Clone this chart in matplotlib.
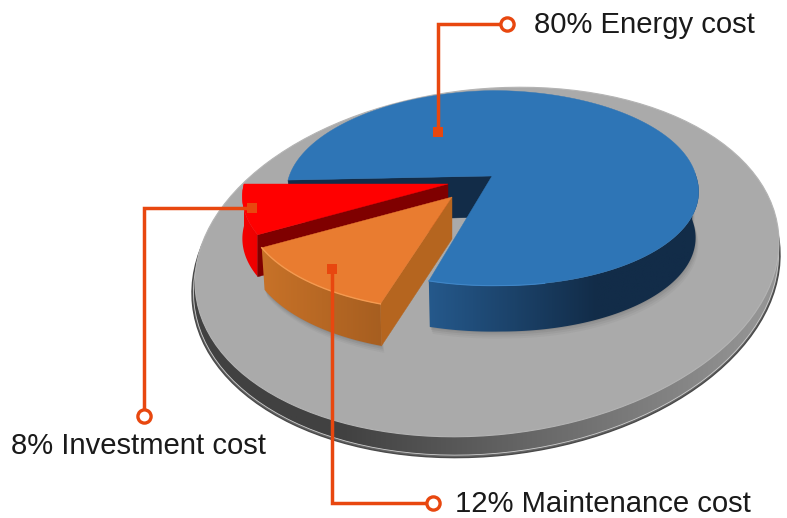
import numpy as np
import matplotlib
matplotlib.use('Agg')
import matplotlib.pyplot as plt
from matplotlib.patches import Ellipse, Polygon
from matplotlib.colors import LinearSegmentedColormap

# shares in percent, drawn counter-clockwise starting from the left of the pie
categories = ['Investment cost', 'Maintenance cost', 'Energy cost']
shares = [8, 12, 80]
labels = ['8% Investment cost', '12% Maintenance cost', '80% Energy cost']

plt.rcParams['font.family'] = ['Liberation Sans', 'DejaVu Sans']

ORANGE_LINE = '#e8470f'
START_ANGLE = 180
A, B, K = 204, 96, 0.1236  # pie ellipse scale and perspective

# slice look: apex in pixels, thickness, top, side from/to, cut face
slice_style = {
    'Investment cost': dict(apex=(448, 184), depth=42, top='#ff0000', side=('#f60000', '#ec0000'),
                            cut='#7f0000', grad=60, shear=0, tilt=0, b=99, k=0.1255, wall=360,
                            shrink=1.0),
    'Maintenance cost': dict(apex=(452, 197), depth=42, top='#e97c30', side=('#c87228', '#a65e20'),
                             cut='#b5651f', grad=125, shear=0, tilt=0, b=99, k=0.1255, wall=360,
                             shrink=0.985),
    'Energy cost': dict(apex=(492, 176), depth=46, top='#2e75b6', side=('#25598c', '#122c48'),
                        cut='#122c48', grad=170, shear=0.08, tilt=0.02, b=B, k=K, wall=110,
                        shrink=0.985),
}

fig = plt.figure(figsize=(7.87, 5.18), dpi=100)
ax = fig.add_axes([0, 0, 1, 1])


def project(theta, style):
    # point on the unit circle to image pixels, far side slightly smaller
    apex = style['apex']
    u, v = np.cos(np.radians(theta)), np.sin(np.radians(theta))
    w = 1 + style['k'] * v
    dx, dy = A * u / w, -style['b'] * v / w
    x = apex[0] + dx + style['shear'] * np.maximum(dy, 0)
    y = apex[1] + dy + style['tilt'] * np.maximum(-dx, 0)
    return x, y


def lower(x, y, style):
    return style['apex'][0] + (x - style['apex'][0]) * style['shrink'], y + style['depth']


def draw_plate():
    ax.add_patch(Ellipse((486, 274), 590, 364, angle=-6, fc='#666666', ec='#4a4a4a', lw=1, zorder=1))
    rim = Ellipse((486, 273), 587, 361, angle=-6, fc='none', ec='none', zorder=2)
    ax.add_patch(rim)
    xx = np.linspace(190, 785, 256)
    grad = np.clip((xx - 340) / 420, 0, 1).reshape(1, -1)
    img = ax.imshow(grad, extent=(190, 785, 520, 80), cmap=LinearSegmentedColormap.from_list(
        'rim', ['#414141', '#949494']), aspect='auto', zorder=2)
    img.set_clip_path(rim)
    ax.add_patch(Ellipse((486, 273), 587, 361, angle=-6, fc='none', ec='#cfcfcf', lw=0.6, zorder=2.5))
    ax.add_patch(Ellipse((487, 262), 586, 346, angle=-6, fc='#aaaaaa', ec='#b4b4b4', lw=0.8, zorder=3))


def draw_shadow(t0, t1, style):
    th = np.linspace(t0, t1, 80)
    x, y = project(th, style)
    xl, yl = lower(x, y, style)
    for grow, alpha in zip([7, 5, 3, 1], [0.03, 0.04, 0.05, 0.06]):
        pts = np.column_stack([np.r_[x, xl[::-1] + grow * 0.4], np.r_[y, yl[::-1] + grow]])
        ax.add_patch(Polygon(pts, fc='black', ec='none', alpha=alpha, zorder=4))


def draw_slice(t0, t1, style, z):
    apex = style['apex']
    depth = style['depth']
    th = np.linspace(t0, t1, 240)
    x, y = project(th, style)

    # outer wall, shaded from left to right
    wall = th <= t0 + style['wall']
    wx, wy = x[wall], y[wall]
    wxl, wyl = lower(wx, wy, style)
    poly = Polygon(np.column_stack([np.r_[wx, wxl[::-1]], np.r_[wy, wyl[::-1]]]),
                   fc='none', ec='none', zorder=z)
    ax.add_patch(poly)
    x0, x1 = min(wx.min(), wxl.min()) - 2, max(wx.max(), wxl.max()) + 2
    xx = np.linspace(x0, x1, 256)
    grad = np.clip((xx - x0) / style['grad'], 0, 1).reshape(1, -1)
    img = ax.imshow(grad, extent=(x0, x1, wyl.max() + 2, wy.min() - 2), aspect='auto', zorder=z,
                    cmap=LinearSegmentedColormap.from_list('side', list(style['side'])))
    img.set_clip_path(poly)

    # visible cut face, the blue one is only seen inside the notch
    xl, yl = lower(x[-1], y[-1], style)
    if style['shear'] == 0:
        q = [apex, (x[-1], y[-1]), (xl, yl), (apex[0], apex[1] + depth)]
    else:
        q = [apex, (x[-1], y[-1]), (xl, yl - 4), (apex[0], apex[1] + 41)]
    ax.add_patch(Polygon(q, fc=style['cut'], ec=style['cut'], lw=0.3, zorder=z + 0.1))

    # top
    pts = np.vstack([[apex], np.column_stack([x, y])])
    ax.add_patch(Polygon(pts, fc=style['top'], ec=style['top'], lw=0.3, zorder=z + 0.2))
    return th, x, y


draw_plate()

angle = START_ANGLE
spans = {}
for name, share in zip(categories, shares):
    spans[name] = (angle, angle + share * 3.6)
    angle += share * 3.6

draw_shadow(spans['Energy cost'][0], spans['Energy cost'][0] + 110, slice_style['Energy cost'])
draw_shadow(*spans['Maintenance cost'], slice_style['Maintenance cost'])

# far to near: blue first, then red, orange in front
th, x, y = draw_slice(*spans['Energy cost'], slice_style['Energy cost'], 5)
near = th < spans['Energy cost'][0] + 30
ax.plot(x[near], y[near], color='#3f86c8', lw=0.8, zorder=5.5)
draw_slice(*spans['Investment cost'], slice_style['Investment cost'], 6)
th, x, y = draw_slice(*spans['Maintenance cost'], slice_style['Maintenance cost'], 7)
ax.plot(x, y, color='#f49a50', lw=1, zorder=7.5)

# callouts: square at the slice, line, open ring, text
callouts = [
    ([438, 438, 507], [132, 24, 24], (534, 25), 2),
    ([252, 144, 144], [208, 208, 416], (11, 446), 0),
    ([332, 332, 433], [269, 503, 503], (455, 504), 1),
]
for xs, ys, pos, idx in callouts:
    ax.plot(xs, ys, color=ORANGE_LINE, lw=2.5, solid_joinstyle='miter', zorder=9)
    ax.plot(xs[0], ys[0], 's', color=ORANGE_LINE, ms=6.5, mew=0, zorder=9)
    ax.plot(xs[-1], ys[-1], 'o', mfc='white', mec=ORANGE_LINE, ms=9.5, mew=2.4, zorder=10)
    ax.text(pos[0], pos[1], labels[idx], fontsize=21.1, color='#1a1a1a', ha='left', va='center', zorder=10)

ax.set_xlim(0, 787)
ax.set_ylim(518, 0)
ax.axis('off')
fig.savefig('out.png', dpi=100, facecolor='white')
